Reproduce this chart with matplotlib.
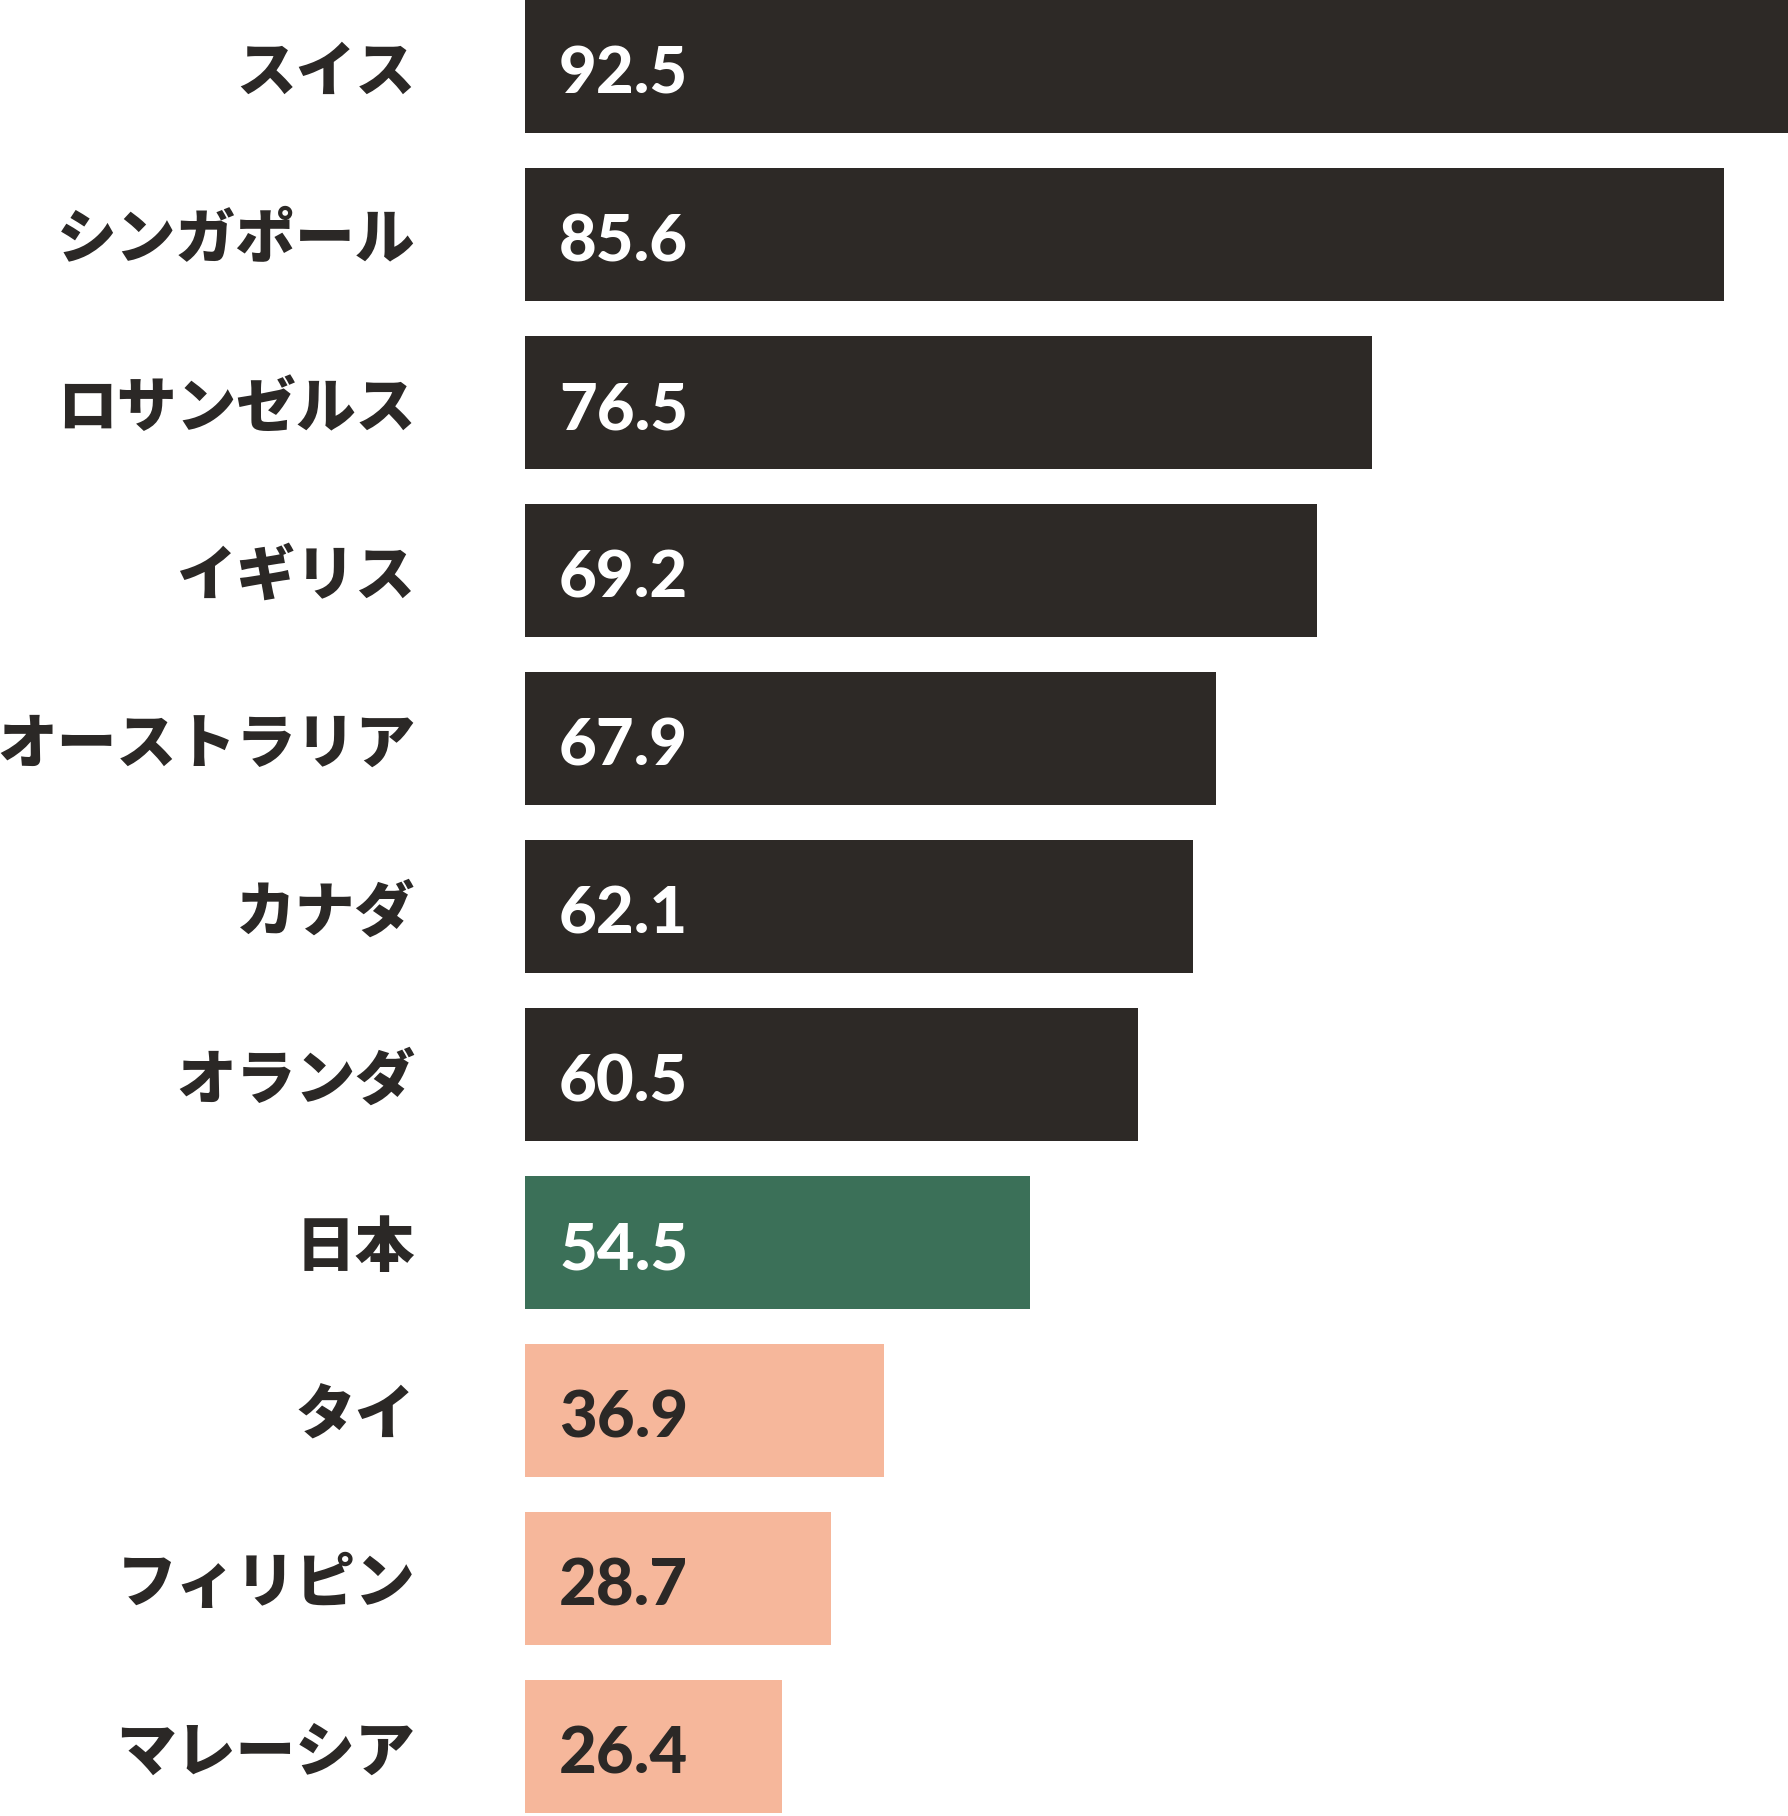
import matplotlib
matplotlib.use("Agg")
import matplotlib.pyplot as plt

# 国・地域名と表示スコア
countries = ["スイス", "シンガポール", "ロサンゼルス", "イギリス", "オーストラリア",
             "カナダ", "オランダ", "日本", "タイ", "フィリピン", "マレーシア"]
scores = ["92.5", "85.6", "76.5", "69.2", "67.9", "62.1", "60.5", "54.5",
          "36.9", "28.7", "26.4"]
# bar lengths as drawn in the picture (same scale, longest bar = 92.5)
bar_len = [92.5, 87.8, 62.0, 58.0, 50.6, 48.9, 44.9, 37.0, 26.3, 22.4, 18.8]
groups = ["other"] * 7 + ["japan"] + ["asia"] * 3

colors = {"other": "#2d2926", "japan": "#3b7058", "asia": "#f6b79b"}
text_colors = {"other": "white", "japan": "white", "asia": "#2b2826"}

W, H = 1788, 1816
fig = plt.figure(figsize=(W / 100, H / 100), dpi=100)
left_px = 525
ax = fig.add_axes([left_px / W, 0, 1 - left_px / W, 1])

pitch = 168
bar_h = 133 / pitch
ypos = [i + bar_h / 2 for i in range(len(countries))]

ax.barh(ypos, bar_len, height=bar_h,
        color=[colors[g] for g in groups], linewidth=0)

for y, s, g in zip(ypos, scores, groups):
    ax.text(0.027, y + 0.02, s, transform=ax.get_yaxis_transform(),
            ha="left", va="center_baseline", fontsize=47,
            family=["Lato", "DejaVu Sans"], weight="black",
            color=text_colors[g])

ax.set_xlim(0, 92.5)
ax.set_ylim(H / pitch, 0)

ax.set_yticks(ypos)
ax.set_yticklabels(countries, family=["Noto Sans CJK JP", "DejaVu Sans"],
                   weight="heavy", fontsize=43, color="#2b2826")
ax.tick_params(axis="y", length=0, pad=79)
ax.set_xticks([])
for sp in ax.spines.values():
    sp.set_visible(False)

fig.savefig("out.png", dpi=100, facecolor="white")
